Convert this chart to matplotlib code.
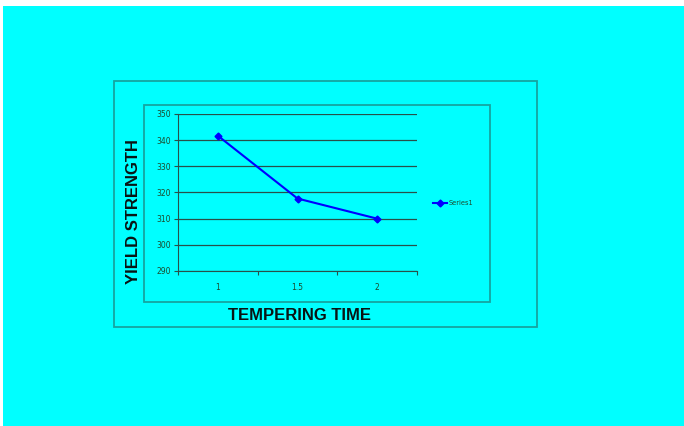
import matplotlib
matplotlib.use('Agg')
import matplotlib.pyplot as plt
from matplotlib.patches import Rectangle

# data
categories = ['1', '1.5', '2']
yield_strength = [341.7, 317.7, 310.0]
y_ticks = [290, 300, 310, 320, 330, 340, 350]
series_name = 'Series1'

W, H = 684, 426
CYAN = '#00ffff'
BORDER = '#16a5a0'
GRID = '#28504a'


def px_rect(x0, y0, x1, y1, **kw):
    # rectangle in figure pixel coordinates (top-left origin)
    return Rectangle((x0 / W, 1 - y1 / H), (x1 - x0) / W, (y1 - y0) / H,
                     transform=fig.transFigure, **kw)


fig = plt.figure(figsize=(W / 100, H / 100), dpi=100, facecolor='white')
fig.patches.append(px_rect(3, 6, W, H, facecolor=CYAN, edgecolor='none', zorder=-2))
fig.patches.append(px_rect(114, 81, 537, 327, facecolor='none', edgecolor=BORDER, lw=1.3, zorder=-1))
fig.patches.append(px_rect(144, 105, 490, 302, facecolor='none', edgecolor=BORDER, lw=1.3, zorder=-1))

ax = fig.add_axes([178 / W, 1 - 271 / H, (417 - 178) / W, (271 - 114) / H])
ax.set_facecolor('none')
ax.set_zorder(2)

xs = list(range(len(categories)))
ax.plot(xs, yield_strength, color='#0000ff', lw=1.5, marker='D', ms=3.5,
        label=series_name)

ax.set_xlim(-0.5, len(categories) - 0.5)
ax.set_ylim(290, 350)
ax.set_yticks(y_ticks)
ax.set_yticklabels([str(v) for v in y_ticks])
ax.set_xticks(xs)
ax.set_xticklabels(categories)
ax.set_xticks([i - 0.5 for i in range(len(categories) + 1)], minor=True)
ax.tick_params(axis='x', which='major', length=0, pad=9, labelsize=5.5, labelcolor='#1c4a2c')
ax.tick_params(axis='x', which='minor', length=3, color=GRID, width=0.8)
ax.tick_params(axis='y', length=3, color=GRID, width=0.8, pad=2, labelsize=5.5, labelcolor='#1c4a2c')
ax.grid(True, axis='y', color=GRID, lw=0.9)
ax.set_axisbelow(True)
for s in ['top', 'right']:
    ax.spines[s].set_visible(False)
for s in ['left', 'bottom']:
    ax.spines[s].set_color(GRID)
    ax.spines[s].set_linewidth(0.8)

ax.legend(loc='center left', bbox_to_anchor=(1.04, 0.43), frameon=False,
          fontsize=4.8, handlelength=2.2, handletextpad=0.2, labelcolor='#1c4a2c')

fig.text(300 / W, 1 - 315 / H, 'TEMPERING TIME', ha='center', va='center',
         fontsize=12, fontweight='bold', family='Liberation Sans', color='#0a1414')
fig.text(133 / W, 1 - 212 / H, 'YIELD STRENGTH', ha='center', va='center', rotation=90,
         fontsize=12, fontweight='bold', family='Liberation Sans', color='#0a1414')

fig.savefig('out.png', dpi=100, facecolor=fig.get_facecolor())
